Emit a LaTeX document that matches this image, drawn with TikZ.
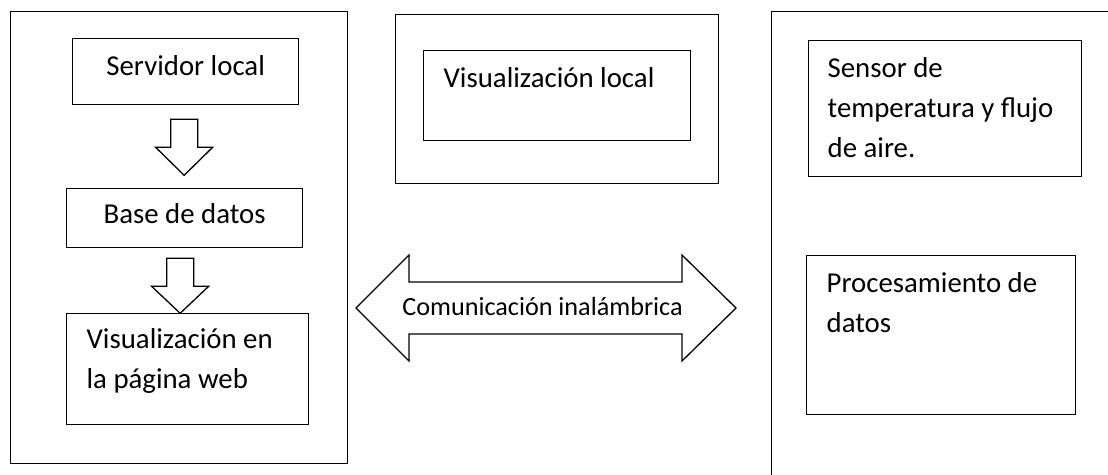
\documentclass[tikz,border=0pt]{standalone}
\usepackage{fontspec}
\setmainfont{Carlito}
\usetikzlibrary{calc}

\begin{document}
\begin{tikzpicture}[
    x=1pt, y=-1pt,
    grp/.style = {draw, line width=1.3pt, inner sep=0pt, anchor=north west},
    blk/.style = {grp, font=\fontsize{28.8}{40}\selectfont, text height=37pt},
    izq/.style = {blk, align=flush left, inner xsep=20pt},
    flecha/.style = {draw, line width=1.3pt, line join=miter},
    rel/.style = {font=\fontsize{26.2}{30}\selectfont, anchor=base}
    ]
    \path[use as bounding box, clip] (0,0) rectangle (1108,474);
    % bloques grandes
    \node[grp, minimum width=337pt, minimum height=452pt] (lft) at (10,11) {};
    \node[grp, minimum width=323pt, minimum height=169pt] (mid) at (395,14) {};
    \node[grp, minimum width=400pt, minimum height=520pt] (rgt) at (771,11) {};
    % servidor
    \node[blk, minimum width=226pt, text depth=29pt] (srv) at (72,38) {Servidor local};
    \node[blk, minimum width=236pt, text height=35pt, text depth=24pt] (bd) at (66,188) {Base de datos};
    \node[izq, text width=202pt, text height=35pt, text depth=76pt] (web) at (66,313) {Visualización en\\la página web};
    % local
    \node[izq, text width=227pt, text depth=53pt] (loc) at (423,50) {Visualización local};
    % sensor
    \node[izq, inner xsep=19pt, text width=235pt, text depth=99pt] (sens) at (808,40) {Sensor de\\temperatura y flujo\\de aire.};
    \node[izq, text width=229pt, text depth=122pt] (proc) at (806,255) {Procesamiento de\\datos};
    \node[rel] (com) at (542.5,315) {Comunicación inalámbrica};
    % flechas
    \draw[flecha] ($(srv.south)+(-15,14)$) -- ++(27,0) -- ++(0,28) -- ++(15,0)
        -- ++(-28.5,28) -- ++(-28.5,-28) -- ++(15,0) -- cycle;
    \draw[flecha] ($(bd.south)+(-18,10)$) -- ++(27,0) -- ++(0,28) -- ++(15,0)
        -- ++(-28.5,27) -- ++(-28.5,-27) -- ++(15,0) -- cycle;
    \draw[flecha] ($(com.base)+(-186.5,-7)$) -- ++(53,-53) -- ++(0,27) -- ++(273,0)
        -- ++(0,-27) -- ++(54,53) -- ++(-54,53) -- ++(0,-27) -- ++(-273,0)
        -- ++(0,27) -- cycle;
\end{tikzpicture}
\end{document}
